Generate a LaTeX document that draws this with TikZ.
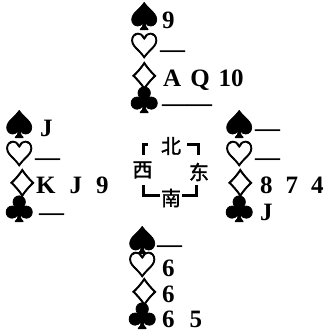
\documentclass[tikz,border=0pt]{standalone}
\usepackage{fontspec}
\setmainfont{Liberation Serif}
\newfontfamily\suitfont[FakeBold=2.5]{Noto Sans CJK SC}
\newfontfamily\cjk[FakeBold=1.5]{Noto Sans CJK SC}
\usetikzlibrary{positioning}
\newcommand{\wdmd}{\scalebox{1.15}[1.05]{♢}}

\begin{document}
\begin{tikzpicture}[
  x=1pt, y=-1pt,
  suit/.style ={anchor=base west,inner sep=0pt,
                font=\suitfont\fontsize{30}{30}\selectfont},
  dsuit/.style={suit,font=\suitfont\fontsize{28}{28}\selectfont},
  hold/.style ={anchor=base west,inner sep=0pt,
                font=\fontsize{25}{25}\selectfont\bfseries},
  dir/.style  ={inner sep=0pt,font=\cjk\fontsize{20}{20}\selectfont},
  brk/.style  ={line width=2.6pt}
]
\useasboundingbox (0,0) rectangle (327,332);
%% North
\node[suit]  (nS) at (129, 28)  {♠};
\node[suit]  (nH) at (129, 57)  {♡};
\node[dsuit] (nD) at (128, 87)  {\wdmd};
\node[suit]  (nC) at (129, 111) {♣};
\node[hold] (nSh) at (162, 28)  {9};
\node[hold] (nHh) at (160, 57)  {—};
\node[hold] (nDh) at (163, 86)  {A\hspace{9pt}Q\hspace{9pt}10};
\node[hold] (nCh) at (162, 111) {——};
%% West
\node[suit]  (wS) at (4, 136) {♠};
\node[suit]  (wH) at (4, 165) {♡};
\node[dsuit] (wD) at (6, 194) {\wdmd};
\node[suit]  (wC) at (4, 220) {♣};
\node[hold] (wSh) at (40, 136) {J};
\node[hold] (wHh) at (35, 165) {—};
\node[hold] (wDh) at (36, 193) {K\hspace{14pt}J\hspace{14pt}9};
\node[hold] (wCh) at (39, 220) {—};
%% East
\node[suit]  (eS) at (224, 136) {♠};
\node[suit]  (eH) at (224, 165) {♡};
\node[dsuit] (eD) at (224, 194) {\wdmd};
\node[suit]  (eC) at (224, 220) {♣};
\node[hold] (eSh) at (255, 136) {—};
\node[hold] (eHh) at (255, 165) {—};
\node[hold] (eDh) at (260, 193) {8\hspace{13pt}7\hspace{13pt}4};
\node[hold] (eCh) at (260, 220) {J};
%% South
\node[suit]  (sS) at (127, 252) {♠};
\node[suit]  (sH) at (127, 276) {♡};
\node[dsuit] (sD) at (128, 303) {\wdmd};
\node[suit]  (sC) at (127, 327) {♣};
\node[hold] (sSh) at (157, 252) {—};
\node[hold] (sHh) at (162, 276) {6};
\node[hold] (sDh) at (162, 302) {6};
\node[hold] (sCh) at (162, 327) {6\hspace{15pt}5};
%% Compass
\node[dir] (bei)  at (171, 146) {北};
\node[dir] (xi)   at (142.5, 170) {西};
\node[dir] (dong) at (199, 172) {东};
\node[dir] (nan)  at (171, 198) {南};
\draw[brk] (148,144.5) -- (143.5,144.5) -- (143.5,155);
\draw[brk] (187,144.5) -- (198.5,144.5) -- (198.5,155);
\draw[brk] (143.5,185) -- (143.5,195.5) -- (160,195.5);
\draw[brk] (182,195.5) -- (196.5,195.5) -- (196.5,185);
\end{tikzpicture}
\end{document}
